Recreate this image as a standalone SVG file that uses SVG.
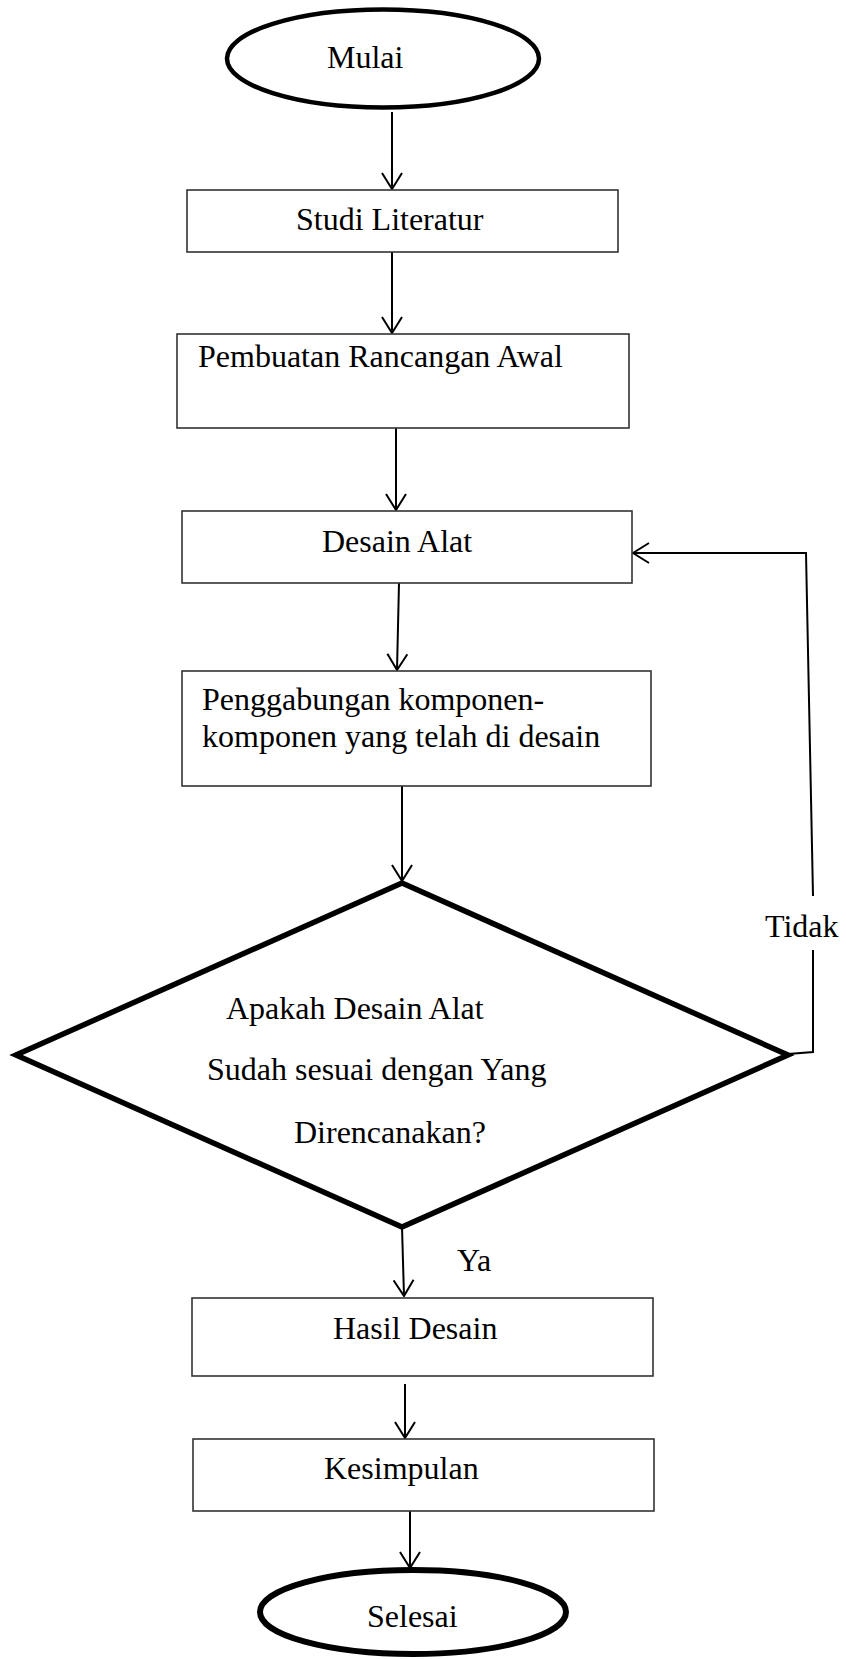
<svg xmlns="http://www.w3.org/2000/svg" width="846" height="1659" viewBox="0 0 846 1659">
<defs>
<style>
.t{font-family:"Liberation Serif","Times New Roman",serif;font-size:32px;fill:#000}
.box{fill:#fff;stroke:#333;stroke-width:1.6}
.term{fill:#fff;stroke:#000}
.c{fill:none;stroke:#000;stroke-width:2}
</style>
<marker id="ah" markerUnits="userSpaceOnUse" viewBox="0 0 18 22" refX="17" refY="11" markerWidth="18" markerHeight="22" orient="auto">
<path d="M1,1 L17,11 L1,21" fill="none" stroke="#000" stroke-width="2"/>
</marker>
</defs>
<rect width="846" height="1659" fill="#fff"/>
<g id="connectors">
<line class="c" x1="392" y1="112" x2="392" y2="189" marker-end="url(#ah)"/>
<line class="c" x1="392" y1="252" x2="392" y2="333" marker-end="url(#ah)"/>
<line class="c" x1="396" y1="428" x2="396" y2="510" marker-end="url(#ah)"/>
<line class="c" x1="399" y1="583" x2="397" y2="670" marker-end="url(#ah)"/>
<line class="c" x1="402" y1="786" x2="402" y2="881" marker-end="url(#ah)"/>
<line class="c" x1="402" y1="1227" x2="404" y2="1296" marker-end="url(#ah)"/>
<line class="c" x1="405" y1="1384" x2="405" y2="1438" marker-end="url(#ah)"/>
<line class="c" x1="410" y1="1511" x2="410" y2="1568" marker-end="url(#ah)"/>
<polyline class="c" points="788,1054 813,1052 813,950"/>
<polyline class="c" points="813,896 806,553 633,553" marker-end="url(#ah)"/>
<text class="t" x="765" y="937">Tidak</text>
<text class="t" x="457" y="1271">Ya</text>
</g>
<g id="mulai">
<ellipse class="term" cx="383" cy="58.5" rx="156" ry="49" stroke-width="4.5"/>
<text class="t" x="327" y="68">Mulai</text>
</g>
<g id="studi">
<rect class="box" x="187" y="190" width="431" height="62"/>
<text class="t" x="296" y="230">Studi Literatur</text>
</g>
<g id="pembuatan">
<rect class="box" x="177" y="334" width="452" height="94"/>
<text class="t" x="198" y="367">Pembuatan Rancangan Awal</text>
</g>
<g id="desain">
<rect class="box" x="182" y="511" width="450" height="72"/>
<text class="t" x="322" y="552">Desain Alat</text>
</g>
<g id="penggabungan">
<rect class="box" x="182" y="671" width="469" height="115"/>
<text class="t" x="202" y="710">Penggabungan komponen-</text>
<text class="t" x="202" y="747">komponen yang telah di desain</text>
</g>
<g id="keputusan">
<polygon points="402,883 788,1055 402,1227 16,1055" fill="#fff" stroke="#000" stroke-width="5.5" stroke-linejoin="miter"/>
<text class="t" x="226" y="1019">Apakah Desain Alat</text>
<text class="t" x="207" y="1080">Sudah sesuai dengan Yang</text>
<text class="t" x="294" y="1143">Direncanakan?</text>
</g>
<g id="hasil">
<rect class="box" x="192" y="1298" width="461" height="78"/>
<text class="t" x="333" y="1339">Hasil Desain</text>
</g>
<g id="kesimpulan">
<rect class="box" x="193" y="1439" width="461" height="72"/>
<text class="t" x="324" y="1479">Kesimpulan</text>
</g>
<g id="selesai">
<ellipse class="term" cx="413" cy="1612" rx="153" ry="42" stroke-width="6"/>
<text class="t" x="367" y="1627">Selesai</text>
</g>
</svg>
